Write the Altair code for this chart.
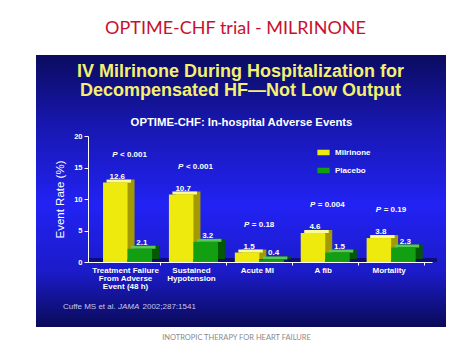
import altair as alt
import pandas as pd

# ---------------- data ----------------
categories = ["Treatment Failure\nFrom Adverse\nEvent (48 h)", "Sustained\nHypotension",
              "Acute MI", "A fib", "Mortality"]
series = ["Milrinone", "Placebo"]
milrinone = [12.6, 10.7, 1.5, 4.6, 3.8]
placebo = [2.1, 3.2, 0.4, 1.5, 2.3]
p_values = ["< 0.001", "< 0.001", "= 0.18", "= 0.004", "= 0.19"]
y_ticks = [0, 5, 10, 15, 20]

BAR_W = 0.372  # bar width in category units

rows = []
for i, cat in enumerate(categories):
    for j, vals in enumerate([milrinone, placebo]):
        start = i + 0.5 - BAR_W + j * BAR_W
        rows.append(dict(cat=cat, series=series[j], value=vals[i], label=f"{vals[i]:.1f}",
                         xs=start, xe=start + BAR_W, xm=start + BAR_W / 2, base=0))
bars = pd.DataFrame(rows)

cats = pd.DataFrame(dict(cat=categories, xc=[i + 0.5 for i in range(len(categories))],
                         top=[max(a, b) for a, b in zip(milrinone, placebo)],
                         p=p_values))
one = pd.DataFrame({"d": [0]})

W, H = 344, 126
FONT = "Liberation Sans"

xscale = alt.Scale(domain=[-0.1, 5.12], nice=False, zero=False)
yscale = alt.Scale(domain=[0, 20], nice=False)
xaxis = alt.Axis(values=[1, 2, 3, 4, 5], labels=False, title=None, domainColor="white",
                 tickColor="white", tickSize=3, grid=False, zindex=1)
yaxis = alt.Axis(values=y_ticks, title="Event Rate (%)", titleColor="white", titleFont=FONT,
                 titleFontSize=11.5, titleFontWeight="normal", titlePadding=8,
                 labelColor="white", labelFont=FONT, labelFontWeight="bold", labelFontSize=7.5,
                 labelPadding=2, tickColor="white", tickSize=4, domainColor="white",
                 grid=False, zindex=1)

# ---------------- background panel ----------------
grad = alt.LinearGradient(gradient="linear", x1=0, x2=0, y1=0, y2=1, stops=[
    alt.GradientStop(offset=0, color="#0b0b60"),
    alt.GradientStop(offset=0.25, color="#1717ae"),
    alt.GradientStop(offset=0.55, color="#2222f4"),
    alt.GradientStop(offset=0.8, color="#1b1bc8"),
    alt.GradientStop(offset=1, color="#0a0a58"),
])
panel = alt.Chart(one).mark_rect(color=grad).encode(
    x=alt.value(-52), x2=alt.value(358), y=alt.value(-81), y2=alt.value(191))

floor = alt.Chart(one).mark_rect(color="#0c0c7a").encode(
    x=alt.value(0), x2=alt.value(W + 5), y=alt.value(H - 4), y2=alt.value(H))

# ---------------- 3D bars ----------------
base = alt.Chart(bars)
back = base.mark_rect(xOffset=7, x2Offset=7, yOffset=-3, y2Offset=-3).encode(
    x=alt.X("xs:Q", scale=xscale, axis=xaxis), x2="xe:Q",
    y=alt.Y("value:Q", scale=yscale, axis=yaxis), y2="base:Q",
    color=alt.Color("series:N", scale=alt.Scale(domain=series, range=["#a29a00", "#045804"]),
                    legend=None))
topf = base.mark_rect(xOffset=3.5, x2Offset=3.5, yOffset=-3).encode(
    x=alt.X("xs:Q", scale=xscale, axis=xaxis), x2="xe:Q",
    y=alt.Y("value:Q", scale=yscale, axis=yaxis), y2="value:Q",
    color=alt.Color("series:N", scale=alt.Scale(domain=series, range=["#fafa9a", "#58c858"]),
                    legend=None))
front = base.mark_rect().encode(
    x=alt.X("xs:Q", scale=xscale, axis=xaxis), x2="xe:Q",
    y=alt.Y("value:Q", scale=yscale, axis=yaxis), y2="base:Q",
    color=alt.Color("series:N", scale=alt.Scale(domain=series, range=["#eeea0e", "#12a012"]),
                    legend=alt.Legend(title=None, orient="none", legendX=229, legendY=10,
                                      symbolType="M-1,-0.45L1,-0.45L1,0.45L-1,0.45Z",
                                      symbolSize=150, symbolStrokeWidth=0,
                                      labelColor="white", labelFont=FONT,
                                      labelFontWeight="bold", labelFontSize=8,
                                      labelOffset=5, rowPadding=7, padding=0)))

vlabels = base.mark_text(font=FONT, fontWeight="bold", fontSize=8, color="white",
                         dx=2, dy=-4, baseline="alphabetic").encode(
    x=alt.X("xm:Q", scale=xscale, axis=xaxis),
    y=alt.Y("value:Q", scale=yscale, axis=yaxis), text="label:N")

# ---------------- P values & category labels ----------------
cbase = alt.Chart(cats)
p_italic = cbase.mark_text(font=FONT, fontWeight="bold", fontStyle="italic", fontSize=8,
                           color="white", align="right", dx=-10, dy=-26,
                           baseline="alphabetic").encode(
    x=alt.X("xc:Q", scale=xscale, axis=xaxis),
    y=alt.Y("top:Q", scale=yscale, axis=yaxis), text=alt.value("P"))
p_rest = cbase.mark_text(font=FONT, fontWeight="bold", fontSize=8, color="white",
                         align="left", dx=-7.5, dy=-26, baseline="alphabetic").encode(
    x=alt.X("xc:Q", scale=xscale, axis=xaxis),
    y=alt.Y("top:Q", scale=yscale, axis=yaxis), text="p:N")
clabels = cbase.mark_text(font=FONT, fontWeight="bold", fontSize=8, color="white",
                          lineBreak="\n", lineHeight=8, baseline="top", dx=-2).encode(
    x=alt.X("xc:Q", scale=xscale, axis=xaxis), y=alt.value(130.5), text="cat:N")


# ---------------- titles ----------------
def txt(s, x, y, **kw):
    return alt.Chart(one).mark_text(**kw).encode(x=alt.value(x), y=alt.value(y),
                                                 text=alt.value(s))


t_red = txt("OPTIME-CHF trial - MILRINONE", 147.5, -107, font="Lato", fontSize=18,
            color="#c8102e", baseline="middle")
t1 = txt("IV Milrinone During Hospitalization for", 152.5, -59, font=FONT, fontSize=18,
         fontWeight="bold", color="#f4f070", baseline="alphabetic")
t2 = txt("Decompensated HF\u2014Not Low Output", 152.5, -40.5, font=FONT, fontSize=18,
         fontWeight="bold", color="#f4f070", baseline="alphabetic")
t3 = txt("OPTIME-CHF: In-hospital Adverse Events", 153.5, -10, font=FONT, fontSize=11.3,
         fontWeight="bold", color="white", baseline="alphabetic")
c1 = txt("Cuffe MS et al.", -25, 171, font=FONT, fontSize=8, color="#c4c8ec",
         align="left", baseline="middle")
c2 = txt("JAMA", 30, 171, font=FONT, fontSize=8, fontStyle="italic", color="#c4c8ec",
         align="left", baseline="middle")
c3 = txt("2002;287:1541", 54.5, 171, font=FONT, fontSize=8, color="#c4c8ec",
         align="left", baseline="middle")
footer = txt("INOTROPIC THERAPY FOR HEART FAILURE", 148.5, 202, font="Lato", fontSize=7.5,
             color="#8a8a8a", baseline="middle")

chart = alt.layer(
    panel, floor, back, topf, front, vlabels, p_italic, p_rest, clabels,
    t_red, t1, t2, t3, c1, c2, c3, footer
).resolve_scale(color="independent").properties(
    width=W, height=H,
    autosize=alt.AutoSizeParams(type="none"),
    padding={"left": 80, "top": 128, "right": 34, "bottom": 81},
    background="white",
).configure_view(stroke=None)

chart.save("out.html", embed_options={"renderer": "svg", "actions": False})
